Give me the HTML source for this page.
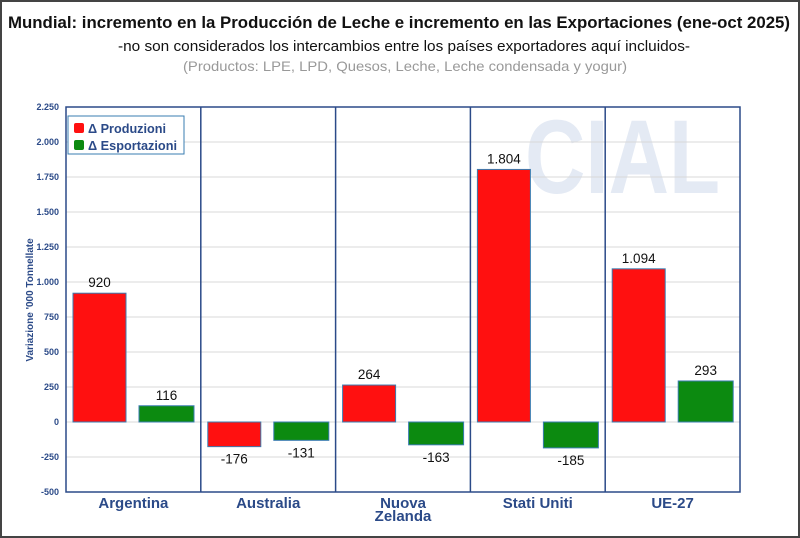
<!DOCTYPE html>
<html><head><meta charset="utf-8"><style>
html,body{margin:0;padding:0;background:#fff}
svg{display:block;font-family:"Liberation Sans",sans-serif}
</style></head><body>
<svg id="c" width="800" height="538" xmlns="http://www.w3.org/2000/svg">
<rect x="1" y="1" width="798" height="536" fill="#fff" stroke="#444" stroke-width="2"/>
<text x="8" y="28" textLength="782" lengthAdjust="spacingAndGlyphs" font-size="17" font-weight="bold" fill="#111">Mundial: incremento en la Producción de Leche e incremento en las Exportaciones (ene-oct 2025)</text>
<text x="118" y="51" textLength="572" lengthAdjust="spacingAndGlyphs" font-size="14.5" fill="#111">-no son considerados los intercambios entre los países exportadores aquí incluidos-</text>
<text x="183" y="71" textLength="444" lengthAdjust="spacingAndGlyphs" font-size="14" fill="#999">(Productos: LPE, LPD, Quesos, Leche, Leche condensada y yogur)</text>
<text x="525" y="193" textLength="195" lengthAdjust="spacingAndGlyphs" font-size="105" font-weight="bold" fill="#e4eaf4">CIAL</text>
<g id="grid"></g><g id="bars"></g><g id="axes"></g>
<text transform="translate(33,300) rotate(-90)" text-anchor="middle" font-size="10" font-weight="bold" fill="#2b4a88">Variazione '000 Tonnellate</text>
<g>
<rect x="68" y="116" width="116" height="38" fill="#fff" stroke="#3a7cb0" stroke-width="1"/>
<rect x="74" y="123" width="10" height="10" rx="2" fill="#ff1010"/>
<text x="88" y="133" font-size="13" font-weight="bold" textLength="78" lengthAdjust="spacingAndGlyphs" fill="#2b4a88">Δ Produzioni</text>
<rect x="74" y="140" width="10" height="10" rx="2" fill="#0c8a10"/>
<text x="88" y="150" font-size="13" font-weight="bold" textLength="89" lengthAdjust="spacingAndGlyphs" fill="#2b4a88">Δ Esportazioni</text>
</g>
</svg>
<script>
const categories=[["Argentina"],["Australia"],["Nuova","Zelanda"],["Stati Uniti"],["UE-27"]];
const produzioni=[920,-176,264,1804,1094];
const esportazioni=[116,-131,-163,-185,293];
const labelsP=["920","-176","264","1.804","1.094"];
const labelsE=["116","-131","-163","-185","293"];
const ticks=[-500,-250,0,250,500,750,1000,1250,1500,1750,2000,2250];
const tickLabels=["-500","-250","0","250","500","750","1.000","1.250","1.500","1.750","2.000","2.250"];
const NS="http://www.w3.org/2000/svg";
const X0=66,X1=740,Y0=492,YMIN=-500,YMAX=2250,Ytop=107;
const y=v=>Y0-(v-YMIN)*(Y0-Ytop)/(YMAX-YMIN);
const gw=(X1-X0)/categories.length;
function mk(t,a,p){const e=document.createElementNS(NS,t);for(const k in a)e.setAttribute(k,a[k]);p.appendChild(e);return e;}
const grid=document.getElementById('grid'),bars=document.getElementById('bars'),axes=document.getElementById('axes');
ticks.forEach((t,i)=>{
 const l=mk('line',{x1:X0,x2:X1,y1:y(t),y2:y(t),stroke:'#d8d8d8','stroke-width':1},grid);
 
 
 const tx=mk('text',{x:59,y:y(t)+3,'text-anchor':'end','font-size':9,'font-weight':'bold',fill:'#2b4a88'},axes);
 tx.textContent=tickLabels[i];
 
 
});
categories.forEach((c,i)=>{
 const gx=X0+i*gw;
 [[produzioni[i],labelsP[i],7,53,'#ff1010','bar-produzioni'],[esportazioni[i],labelsE[i],73,55,'#0c8a10','bar-esportazioni']].forEach(([v,lab,off,w,col,nm])=>{
  const top=Math.min(y(v),y(0)),h=Math.abs(y(v)-y(0));
  const r=mk('rect',{x:gx+off,y:top,width:w,height:h,fill:col,stroke:'#3a7cb0','stroke-width':1},bars);
  
  
  const t=mk('text',{x:gx+off+w/2,y:v>=0?y(v)-6:y(v)+17,'text-anchor':'middle','font-size':13.5,fill:'#111'},bars);
  t.textContent=lab;
  
  
 });
 if(i>0){const d=mk('line',{x1:gx,x2:gx,y1:Ytop,y2:Y0,stroke:'#2b4a88','stroke-width':1.5},axes);
  
  }
 c.forEach((ln,j)=>{
  const t=mk('text',{x:gx+gw/2,y:508+j*13,'text-anchor':'middle','font-size':15,'font-weight':'bold',fill:'#2b4a88'},axes);
  t.textContent=ln;
  
  
 });
});
const b=mk('rect',{x:X0,y:Ytop,width:X1-X0,height:Y0-Ytop,fill:'none',stroke:'#2b4a88','stroke-width':1.5},axes);


</script>
</body></html>
